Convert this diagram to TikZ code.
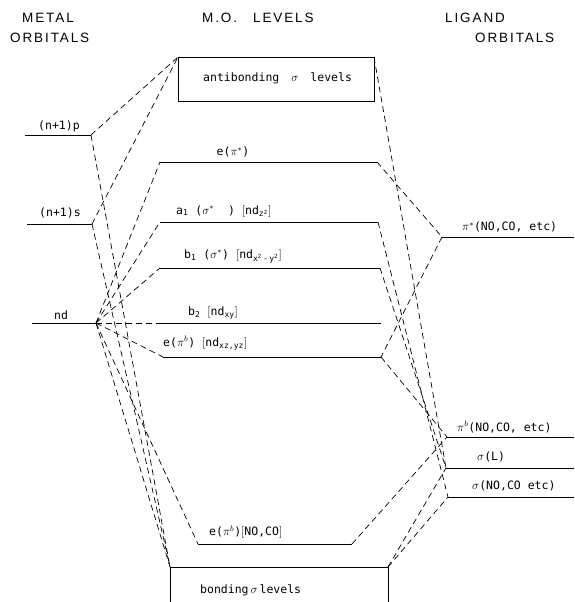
\documentclass[tikz,border=0pt]{standalone}
\usepackage{fontspec}
\newfontfamily\monof{DejaVu Sans Mono}
\newfontfamily\hdrf[LetterSpace=14]{Liberation Sans}
\begin{document}
\begin{tikzpicture}[x=1pt,y=-1pt,
  lvl/.style={line width=0.9pt},
  conn/.style={line width=0.7pt, dash pattern=on 6pt off 4pt},
  lab/.style={font=\monof\fontsize{11.5}{13}\selectfont, inner sep=0pt},
  hdr/.style={font=\hdrf\fontsize{13.5}{15}\selectfont, inner sep=0pt, anchor=west}]
\useasboundingbox (0,0) rectangle (574,602);

% headers
\node[hdr] (h1) at (22,18) {METAL};
\node[hdr] (h2) at (10,38) {ORBITALS};
\node[hdr] (h3) at (202,18) {M.O.\hspace{16pt}LEVELS};
\node[hdr] (h4) at (445,18) {LIGAND};
\node[hdr] (h5) at (475,38) {ORBITALS};

% metal orbitals
\coordinate (pL) at (25,135);  \coordinate (pR) at (91,135);
\coordinate (sL) at (27,224);  \coordinate (sR) at (92,224);
\coordinate (dL) at (32,323);  \coordinate (dR) at (96,323);
\draw[lvl] (pL) -- (pR);
\draw[lvl] (sL) -- (sR);
\draw[lvl] (dL) -- (dR);
\node[lab] (tp) at (59,126) {(n+1)p};
\node[lab] (ts) at (60,213) {(n+1)s};
\node[lab] (td) at (61,315) {nd};

% MO levels
\coordinate (abTL) at (178,57); \coordinate (abTR) at (374,57); \coordinate (abBR) at (374,101);
\draw[lvl] (abTL) rectangle (abBR);
\node[lab, anchor=west] (tab) at (203,78) {antibonding\hspace{12pt}$\sigma$\hspace{12pt}levels};

\coordinate (eaL) at (160,162); \coordinate (eaR) at (377,162);
\draw[lvl] (eaL) -- (eaR);
\node[lab] (tea) at (233,152) {e($\pi^{*}$)};

\coordinate (aL) at (160,222); \coordinate (aR) at (378,222);
\draw[lvl] (aL) -- (aR);
\node[lab, anchor=west] (ta) at (176,211) {a\textsubscript{1} ($\sigma^{*}$\ \ ) $\big[$nd\textsubscript{z\textsuperscript{2}}$\big]$};

\coordinate (bL) at (160,268); \coordinate (bR) at (380,268);
\draw[lvl] (bL) -- (bR);
\node[lab, anchor=west] (tb) at (184,256) {b\textsubscript{1} ($\sigma^{*}$) $\big[$nd\textsubscript{x\textsuperscript{2}\,-\,y\textsuperscript{2}}$\big]$};

\coordinate (cL) at (162,323); \coordinate (cR) at (381,323);
\draw[lvl] (cL) -- (cR);
\node[lab, anchor=west] (tc) at (188,313) {b\textsubscript{2} $\big[$nd\textsubscript{xy}$\big]$};

\coordinate (ebL) at (163,357); \coordinate (ebR) at (381,357);
\draw[lvl] (ebL) -- (ebR);
\node[lab, anchor=west] (teb) at (163,343) {e($\pi^{b}$) $\big[$nd\textsubscript{xz,yz}$\big]$};

\coordinate (enL) at (198,544); \coordinate (enR) at (352,544);
\draw[lvl] (enL) -- (enR);
\node[lab, anchor=west] (ten) at (209,532) {e($\pi^{b}$)$\big[$NO,CO$\big]$};

\coordinate (bbTL) at (170,567); \coordinate (bbTR) at (388,567);
\coordinate (bbBL) at (170,610); \coordinate (bbBR) at (388,610);
\draw[lvl] (bbBL) -- (bbTL) -- (bbTR) -- (bbBR);
\node[lab, anchor=west] (tbb) at (200,590) {bonding\,$\sigma$\,levels};

% ligand orbitals
\coordinate (psL) at (442,237); \coordinate (psR) at (574,237);
\coordinate (pbL) at (447,437); \coordinate (pbR) at (574,437);
\coordinate (slL) at (446,468); \coordinate (slR) at (574,468);
\coordinate (snL) at (448,497); \coordinate (snR) at (574,497);
\draw[lvl] (psL) -- (psR);
\draw[lvl] (pbL) -- (pbR);
\draw[lvl] (slL) -- (slR);
\draw[lvl] (snL) -- (snR);
\node[lab, anchor=west] (tps) at (462,227) {$\pi^{*}$(NO,CO, etc)};
\node[lab, anchor=west] (tpb) at (457,427) {$\pi^{b}$(NO,CO, etc)};
\node[lab, anchor=west] (tsl) at (477,457) {$\sigma$(L)};
\node[lab, anchor=west] (tsn) at (472,486) {$\sigma$(NO,CO etc)};

% metal-side connectors
\draw[conn] (pR) -- (abTL);
\draw[conn] (sR) -- (abTL);
\draw[conn] (pR) -- (bbTL);
\draw[conn] (sR) -- (bbTL);
\draw[conn] (dR) -- (bbTL);
\draw[conn] (dR) -- (eaL);
\draw[conn] (dR) -- (aL);
\draw[conn] (dR) -- (bL);
\draw[conn] (dR) -- (cL);
\draw[conn] (dR) -- (ebL);
\draw[conn] (dR) -- (enL);

% ligand-side connectors
\draw[conn] (abTR) -- (slL);
\draw[conn] (eaR) -- (psL);
\draw[conn] (aR) -- (snL);
\draw[conn] (bR) -- (slL);
\draw[conn] (psL) -- (ebR);
\draw[conn] (ebR) -- (pbL);
\draw[conn] (enR) -- (pbL);
\draw[conn] (bbTR) -- (slL);
\draw[conn] (bbTR) -- (snL);
\end{tikzpicture}
\end{document}
